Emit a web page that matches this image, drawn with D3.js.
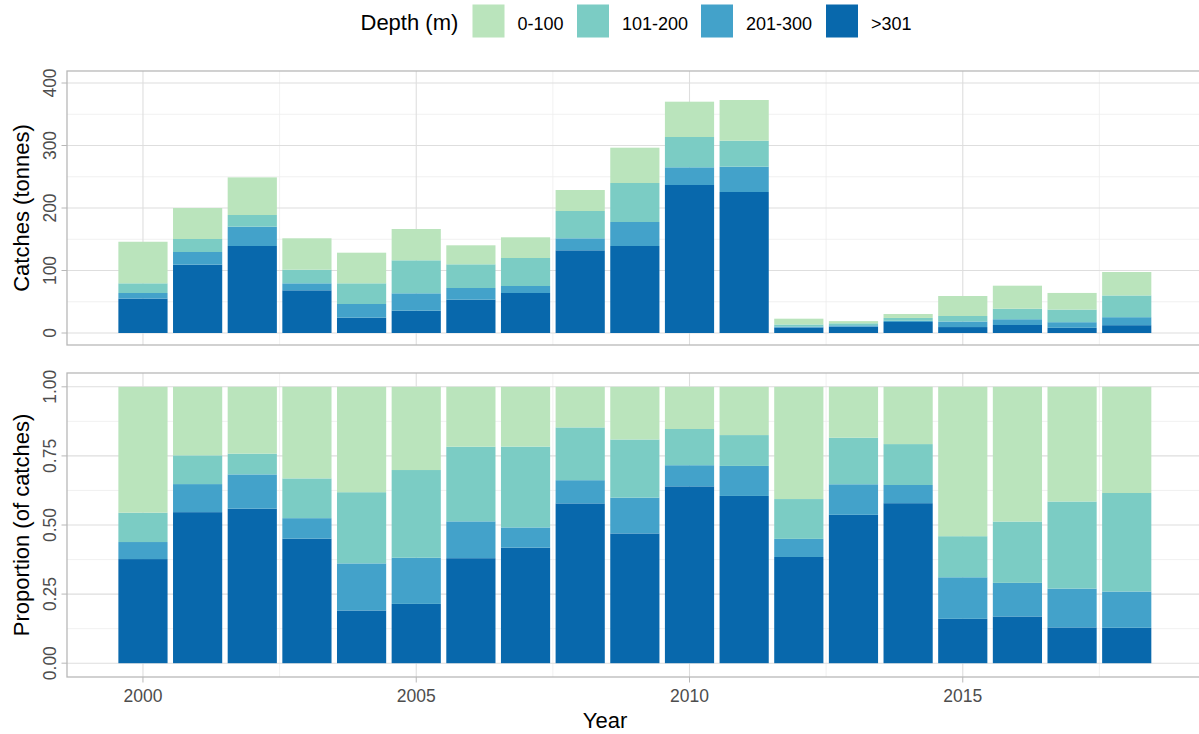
<!DOCTYPE html>
<html>
<head>
<meta charset="utf-8">
<script src="https://cdn.jsdelivr.net/npm/d3@7"></script>
<style>
  html, body { margin: 0; padding: 0; background: #ffffff; }
  svg { display: block; font-family: "Liberation Sans", Arial, sans-serif; }
</style>
</head>
<body>
<svg id="chart" width="1199" height="734"></svg>
<script>
// Catches by depth class, tonnes per year
const years = [2000, 2001, 2002, 2003, 2004, 2005, 2006, 2007, 2008, 2009,
               2010, 2011, 2012, 2013, 2014, 2015, 2016, 2017, 2018];
const depthClasses = ["0-100", "101-200", "201-300", ">301"];
const catch0to100   = [66.5, 49.6, 60.2, 50.2, 49.0, 50.1, 30.4, 33.1, 33.6, 56.5, 56.5, 65.1, 9.3, 3.5, 6.3, 32.0, 36.9, 26.6, 37.5];
const catch101to200 = [15.5, 20.8, 18.7, 21.8, 33.1, 52.8, 37.9, 44.8, 43.7, 62.4, 48.5, 41.6, 3.3, 3.2, 4.5, 8.8, 16.8, 20.2, 34.8];
const catch201to300 = [9.0, 20.3, 30.9, 11.2, 21.9, 27.8, 18.7, 11.2, 19.2, 38.4, 28.3, 40.5, 1.5, 2.1, 2.0, 8.9, 9.2, 9.0, 12.8];
const catchOver301  = [55.0, 109.3, 139.2, 68.3, 24.5, 35.7, 53.3, 64.0, 132.3, 139.2, 236.8, 225.6, 8.8, 10.2, 17.6, 9.5, 12.8, 8.3, 12.5];
const catchTicks = [0, 100, 200, 300, 400];
const propTicks = [0, 0.25, 0.5, 0.75, 1];
const yearTicks = [2000, 2005, 2010, 2015];

const colours = { "0-100": "#bae4bc", "101-200": "#7bccc4", "201-300": "#43a2ca", ">301": "#0868ac" };

// Rows for stacking, deepest class at the bottom of each bar
const rows = years.map((yr, i) => ({
  year: yr,
  "0-100": catch0to100[i],
  "101-200": catch101to200[i],
  "201-300": catch201to300[i],
  ">301": catchOver301[i]
}));
const stackOrder = [">301", "201-300", "101-200", "0-100"];

const svg = d3.select("#chart");
const gridMajor = "#dedede", gridMinor = "#eeeeee", borderCol = "#b8b8b8", tickTextCol = "#4d4d4d";

const x = d3.scaleLinear().domain([1998.61, 2019.39]).range([67, 1202.7]);
const barHalf = 0.45;

function panel(yScale, ticks, minorTicks, stackedSeries, fmt, title, showX) {
  const [y0, y1] = yScale.range(); // bottom, top
  const g = svg.append("g");
  const xl = x.range()[0], xr = x.range()[1];

  // minor grid
  g.selectAll(".hmin").data(minorTicks).join("line")
    .attr("x1", xl).attr("x2", xr)
    .attr("y1", d => yScale(d)).attr("y2", d => yScale(d))
    .attr("stroke", gridMinor).attr("stroke-width", 0.8);
  g.selectAll(".vmin").data([2002.5, 2007.5, 2012.5, 2017.5]).join("line")
    .attr("x1", d => x(d)).attr("x2", d => x(d))
    .attr("y1", y0).attr("y2", y1)
    .attr("stroke", gridMinor).attr("stroke-width", 0.8);
  // major grid
  g.selectAll(".hmaj").data(ticks).join("line")
    .attr("x1", xl).attr("x2", xr)
    .attr("y1", d => yScale(d)).attr("y2", d => yScale(d))
    .attr("stroke", gridMajor).attr("stroke-width", 1.1);
  g.selectAll(".vmaj").data(yearTicks).join("line")
    .attr("x1", d => x(d)).attr("x2", d => x(d))
    .attr("y1", y0).attr("y2", y1)
    .attr("stroke", gridMajor).attr("stroke-width", 1.1);

  // stacked bars
  stackedSeries.forEach(s => {
    g.append("g").selectAll("rect").data(s).join("rect")
      .attr("x", d => x(d.data.year - barHalf))
      .attr("width", x(2000 + barHalf) - x(2000 - barHalf))
      .attr("y", d => yScale(d[1]))
      .attr("height", d => yScale(d[0]) - yScale(d[1]))
      .attr("fill", colours[s.key]);
  });

  // panel border
  g.append("rect").attr("x", xl).attr("y", y1).attr("width", xr - xl).attr("height", y0 - y1)
    .attr("fill", "none").attr("stroke", borderCol).attr("stroke-width", 1.3);

  // y ticks and rotated labels
  g.selectAll(".ytk").data(ticks).join("line")
    .attr("x1", xl - 5.5).attr("x2", xl)
    .attr("y1", d => yScale(d)).attr("y2", d => yScale(d))
    .attr("stroke", borderCol).attr("stroke-width", 1);
  g.selectAll(".ylab").data(ticks).join("text")
    .attr("transform", d => `translate(55.5,${yScale(d)}) rotate(-90)`)
    .attr("text-anchor", "middle")
    .attr("font-size", 17.5).attr("fill", tickTextCol)
    .text(fmt);

  // y title
  g.append("text")
    .attr("transform", `translate(29,${(y0 + y1) / 2}) rotate(-90)`)
    .attr("text-anchor", "middle").attr("font-size", 22).attr("fill", "#000")
    .text(title);

  if (showX) {
    g.selectAll(".xtk").data(yearTicks).join("line")
      .attr("x1", d => x(d)).attr("x2", d => x(d))
      .attr("y1", y0).attr("y2", y0 + 5.5)
      .attr("stroke", borderCol).attr("stroke-width", 1);
    g.selectAll(".xlab").data(yearTicks).join("text")
      .attr("x", d => x(d)).attr("y", y0 + 25)
      .attr("text-anchor", "middle").attr("font-size", 17.5).attr("fill", tickTextCol)
      .text(d => d);
  }
}

// Top panel: catches in tonnes
const yTop = d3.scaleLinear().domain([-19.2, 419.2]).range([345, 71]);
const stackTop = d3.stack().keys(stackOrder)(rows);
panel(yTop, catchTicks, [50, 150, 250, 350], stackTop, d => d, "Catches (tonnes)", false);

// Bottom panel: proportion of catches
const yBot = d3.scaleLinear().domain([-0.05, 1.05]).range([677, 373]);
const stackBot = d3.stack().keys(stackOrder).offset(d3.stackOffsetExpand)(rows);
panel(yBot, propTicks, [0.125, 0.375, 0.625, 0.875], stackBot, d => d3.format(".2f")(d), "Proportion (of catches)", true);

// x title
svg.append("text").attr("x", 605).attr("y", 727.5)
  .attr("text-anchor", "middle").attr("font-size", 22).attr("fill", "#000")
  .text("Year");

// legend
const legend = svg.append("g");
legend.append("text").attr("x", 360.5).attr("y", 30).attr("font-size", 22).attr("fill", "#000").text("Depth (m)");
const keyX = [472.5, 577, 701, 826];
depthClasses.forEach((k, i) => {
  legend.append("rect").attr("x", keyX[i]).attr("y", 4.5).attr("width", 32).attr("height", 33)
    .attr("fill", colours[k]);
  legend.append("text").attr("x", keyX[i] + 45).attr("y", 29.5)
    .attr("font-size", 18).attr("fill", "#000").text(k);
});
</script>
</body>
</html>
